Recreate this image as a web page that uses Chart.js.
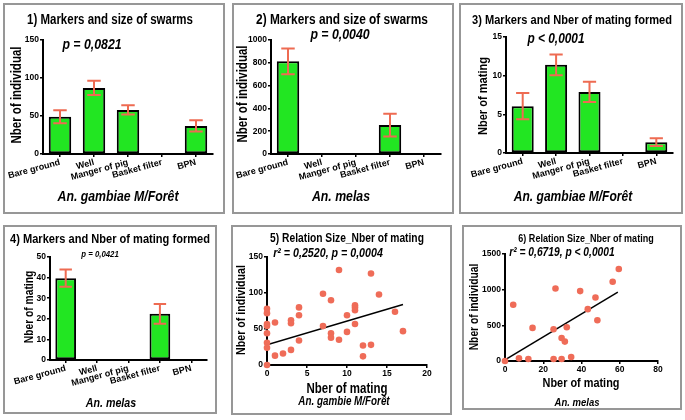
<!DOCTYPE html>
<html>
<head>
<meta charset="utf-8">
<script src="https://cdn.jsdelivr.net/npm/chart.js@4.4.1/dist/chart.umd.min.js"></script>
<style>
  html, body { margin: 0; padding: 0; background: #fff; }
  body { width: 685px; height: 420px; position: relative; overflow: hidden; }
  .panel { position: absolute; box-sizing: border-box; border: 2px solid #979797; background: #fff; }
  .panel canvas { display: block; }
</style>
</head>
<body>
<div class="panel" style="left:3px;top:3px;width:222px;height:211px"><canvas id="c1" width="218" height="207"></canvas></div>
<div class="panel" style="left:232px;top:3px;width:222px;height:211px"><canvas id="c2" width="218" height="207"></canvas></div>
<div class="panel" style="left:459px;top:3px;width:224px;height:211px"><canvas id="c3" width="220" height="207"></canvas></div>
<div class="panel" style="left:3px;top:225px;width:214px;height:189px"><canvas id="c4" width="210" height="185"></canvas></div>
<div class="panel" style="left:231px;top:225px;width:221px;height:190px"><canvas id="c5" width="217" height="186"></canvas></div>
<div class="panel" style="left:462px;top:225px;width:220px;height:185px"><canvas id="c6" width="216" height="181"></canvas></div>
<script>
// categories (sites)
const categories = ['Bare ground', 'Well', 'Manger of pig', 'Basket filter', 'BPN'];

// 1) swarm size, An. gambiae M/Forêt
const swarmGambiae = [49, 87, 58, null, 37];
const swarmGambiaeErr = [8.5, 9.5, 6, null, 7.5];
// 2) swarm size, An. melas
const swarmMelas = [813, null, null, 254, null];
const swarmMelasErr = [113, null, null, 100, null];
// 3) mating formed, An. gambiae M/Forêt
const matingGambiae = [6.05, 11.4, 7.9, null, 1.4];
const matingGambiaeErr = [1.7, 1.35, 1.3, null, 0.5];
// 4) mating formed, An. melas
const matingMelas = [39.7, null, null, 22.4, null];
const matingMelasErr = [4.2, null, null, 4.8, null];

// 5) relation size / mating, An. gambie M/Forêt
const mating5 = [0, 0, 0, 0, 0, 0, 0, 0, 1, 1, 2, 3, 3, 3, 4, 4, 4, 7, 7, 8, 8, 8, 9, 9, 10, 10, 11, 11, 11, 11, 12, 12, 13, 13, 14, 16, 17];
const size5 = [78, 72, 57, 54, 44, 31, 24, 0, 59, 13, 16, 21, 62, 58, 80, 69, 34, 99, 54, 90, 44, 38, 132, 35, 69, 46, 83, 80, 76, 57, 27, 12, 127, 28, 98, 74, 47];
const fitX5 = [0, 17];
const fitY5 = [28, 84];

// 6) relation size / mating, An. melas
const mating6 = [0, 4.3, 7.3, 12.2, 14.4, 25.4, 25.4, 26.4, 29.6, 29.6, 31.3, 32.3, 34.6, 39.3, 43.3, 47.3, 48.3, 56.3, 59.5];
const size6 = [0, 788, 37, 28, 464, 445, 28, 1017, 28, 323, 272, 473, 56, 980, 727, 890, 572, 1111, 1289];
const fitX6 = [0, 59];
const fitY6 = [15, 966];

const FONT = "'Liberation Sans', Arial, sans-serif";
const NARROW = 0.82; // the figure uses a narrow bold face
const GREEN = '#22e622';
const ERR = '#ee6b52';
const DOT = '#ef6c58';

function fnt(size, style) {
  return { family: FONT, size: size, weight: 'bold', style: style || 'normal' };
}

// error bars drawn from the bar elements and the y scale
const errorBars = {
  id: 'errorBars',
  afterDatasetsDraw(chart) {
    const ctx = chart.ctx;
    const y = chart.scales.y;
    chart.data.datasets.forEach((ds, i) => {
      if (!ds.errors) return;
      chart.getDatasetMeta(i).data.forEach((bar, j) => {
        const v = ds.data[j], e = ds.errors[j];
        if (v == null || e == null) return;
        const top = y.getPixelForValue(v + e);
        const bot = y.getPixelForValue(v - e);
        const half = bar.width * 0.3;
        ctx.save();
        ctx.strokeStyle = ERR;
        ctx.lineWidth = 2;
        ctx.beginPath();
        ctx.moveTo(bar.x, top); ctx.lineTo(bar.x, bot);
        ctx.moveTo(bar.x - half, top); ctx.lineTo(bar.x + half, top);
        ctx.moveTo(bar.x - half, bot); ctx.lineTo(bar.x + half, bot);
        ctx.stroke();
        ctx.restore();
      });
    });
  }
};

// text lines: panel titles, p values, axis titles (narrowed bold face)
const notes = {
  id: 'notes',
  afterDraw(chart, args, opts) {
    const ctx = chart.ctx;
    (opts.items || []).forEach(n => {
      ctx.save();
      ctx.font = (n.style || 'normal') + ' bold ' + n.size + 'px ' + FONT;
      ctx.fillStyle = '#000';
      ctx.textAlign = 'center';
      ctx.textBaseline = 'middle';
      ctx.translate(n.x, n.y);
      if (n.rot) ctx.rotate(n.rot * Math.PI / 180);
      ctx.scale(NARROW, 1);
      ctx.fillText(n.text, 0, 0);
      ctx.restore();
    });
  }
};

function axisBase() {
  return {
    grid: { display: true, drawOnChartArea: false, drawTicks: true, tickLength: 3, color: '#000', lineWidth: 1.5 },
    border: { display: true, color: '#000', width: 2 }
  };
}

function fixX(h) {
  return s => { s.height = h; s.paddingLeft = 0; s.paddingRight = 0; };
}
function fixY(w) {
  return s => { s.width = w; s.paddingTop = 0; s.paddingBottom = 0; };
}
const plain = v => String(v);

function barPanel(id, values, errors, c) {
  const x = axisBase();
  x.grid.offset = false;
  x.ticks = { color: '#000', font: fnt(9), minRotation: 15, maxRotation: 15, autoSkip: false, padding: 0 };
  x.afterFit = fixX(c.xHeight);
  const y = axisBase();
  y.min = 0; y.max = c.yMax;
  y.ticks = { stepSize: c.yStep, color: '#000', font: fnt(8.5), padding: 1, callback: plain };
  y.afterFit = fixY(c.yWidth);

  new Chart(document.getElementById(id), {
    type: 'bar',
    data: {
      labels: categories,
      datasets: [{
        data: values,
        errors: errors,
        backgroundColor: GREEN,
        borderColor: '#000',
        borderWidth: 2,
        borderSkipped: false,
        barPercentage: 0.66,
        categoryPercentage: 1
      }]
    },
    options: {
      responsive: false,
      animation: false,
      layout: { padding: c.pad },
      plugins: {
        legend: { display: false },
        tooltip: { enabled: false },
        notes: { items: c.notes }
      },
      scales: { x: x, y: y }
    },
    plugins: [errorBars, notes]
  });
}

function scatterPanel(id, xs, ys, fx, fy, c) {
  const x = axisBase();
  x.type = 'linear'; x.min = 0; x.max = c.xMax;
  x.ticks = { stepSize: c.xStep, color: '#000', font: fnt(8.5), padding: 1, callback: plain };
  x.afterFit = fixX(c.xHeight);
  const y = axisBase();
  y.min = 0; y.max = c.yMax;
  y.ticks = { stepSize: c.yStep, color: '#000', font: fnt(8.5), padding: 1, callback: plain };
  y.afterFit = fixY(c.yWidth);

  new Chart(document.getElementById(id), {
    type: 'scatter',
    data: {
      datasets: [{
        data: xs.map((v, i) => ({ x: v, y: ys[i] })),
        backgroundColor: DOT,
        borderWidth: 0,
        pointRadius: 3.3,
        clip: false
      }, {
        data: fx.map((v, i) => ({ x: v, y: fy[i] })),
        showLine: true,
        borderColor: '#000',
        borderWidth: 1.5,
        pointRadius: 0
      }]
    },
    options: {
      responsive: false,
      animation: false,
      layout: { padding: c.pad },
      plugins: {
        legend: { display: false },
        tooltip: { enabled: false },
        notes: { items: c.notes }
      },
      scales: { x: x, y: y }
    },
    plugins: [notes]
  });
}

barPanel('c1', swarmGambiae, swarmGambiaeErr, {
  yMax: 150, yStep: 50, yWidth: 38, xHeight: 58,
  pad: { left: 0, top: 35, right: 10, bottom: 0 },
  notes: [
    { text: '1) Markers and size of swarms', x: 105, y: 15, size: 14 },
    { text: 'p = 0,0821', x: 87, y: 40, size: 15, style: 'italic' },
    { text: 'Nber of individual', x: 12, y: 90, size: 14, rot: -90 },
    { text: 'An. gambiae M/Forêt', x: 113, y: 192, size: 15, style: 'italic' }
  ]
});

barPanel('c2', swarmMelas, swarmMelasErr, {
  yMax: 1000, yStep: 200, yWidth: 37, xHeight: 58,
  pad: { left: 0, top: 35, right: 11, bottom: 0 },
  notes: [
    { text: '2) Markers and size of swarms', x: 108, y: 15, size: 14.5 },
    { text: 'p = 0,0040', x: 106, y: 30, size: 15, style: 'italic' },
    { text: 'Nber of individual', x: 9, y: 89, size: 14, rot: -90 },
    { text: 'An. melas', x: 107, y: 192, size: 15, style: 'italic' }
  ]
});

barPanel('c3', matingGambiae, matingGambiaeErr, {
  yMax: 15, yStep: 5, yWidth: 45, xHeight: 59,
  pad: { left: 0, top: 32, right: 8, bottom: 0 },
  notes: [
    { text: '3) Markers and Nber of mating formed', x: 111, y: 15, size: 13.5 },
    { text: 'p < 0,0001', x: 95, y: 34, size: 14.5, style: 'italic' },
    { text: 'Nber of mating', x: 22, y: 91, size: 13.5, rot: -90 },
    { text: 'An. gambiae M/Forêt', x: 112, y: 192, size: 14.7, style: 'italic' }
  ]
});

barPanel('c4', matingMelas, matingMelasErr, {
  yMax: 50, yStep: 10, yWidth: 45, xHeight: 52,
  pad: { left: 0, top: 30, right: 8, bottom: 0 },
  notes: [
    { text: '4) Markers and Nber of mating formed', x: 105, y: 12, size: 13.5 },
    { text: 'p = 0,0421', x: 95, y: 27, size: 9.5, style: 'italic' },
    { text: 'Nber of mating', x: 25, y: 80, size: 12.5, rot: -90 },
    { text: 'An. melas', x: 106, y: 176, size: 13, style: 'italic' }
  ]
});

scatterPanel('c5', mating5, size5, fitX5, fitY5, {
  xMax: 20, xStep: 5, yMax: 150, yStep: 50, yWidth: 34, xHeight: 48,
  pad: { left: 0, top: 30, right: 23, bottom: 0 },
  notes: [
    { text: '5) Relation Size_Nber of mating', x: 114, y: 12, size: 12.5 },
    { text: 'r² = 0,2520, p = 0,0004', x: 95, y: 26, size: 13, style: 'italic' },
    { text: 'Nber of individual', x: 8, y: 83, size: 13, rot: -90 },
    { text: 'Nber of mating', x: 114, y: 162, size: 14 },
    { text: 'An. gambie M/Forêt', x: 111, y: 175, size: 12, style: 'italic' }
  ]
});

scatterPanel('c6', mating6, size6, fitX6, fitY6, {
  xMax: 80, xStep: 20, yMax: 1500, yStep: 500, yWidth: 41, xHeight: 47,
  pad: { left: 0, top: 27, right: 22, bottom: 0 },
  notes: [
    { text: '6) Relation Size_Nber of mating', x: 122, y: 12, size: 11 },
    { text: 'r² = 0,6719, p < 0,0001', x: 98, y: 26, size: 12.5, style: 'italic' },
    { text: 'Nber of individual', x: 11, y: 80, size: 12.5, rot: -90 },
    { text: 'Nber of mating', x: 117, y: 156, size: 13.3 },
    { text: 'An. melas', x: 113, y: 176, size: 11.6, style: 'italic' }
  ]
});
</script>
</body>
</html>
